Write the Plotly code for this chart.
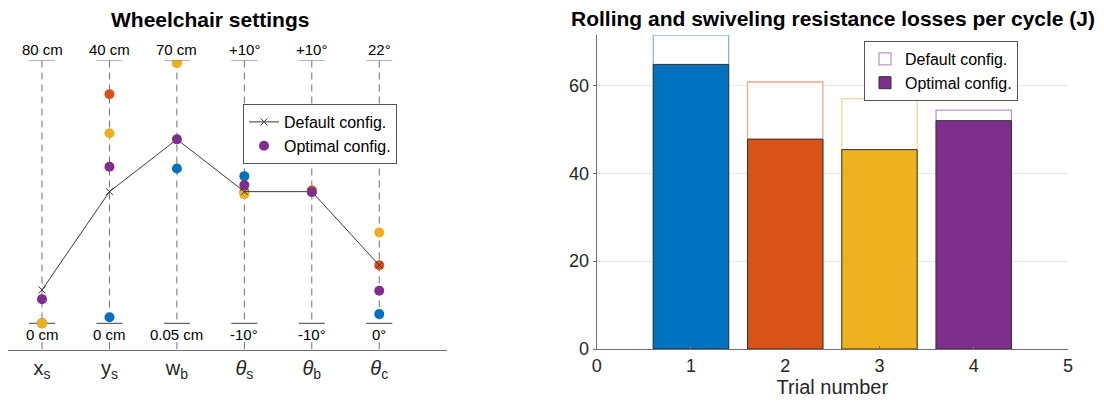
import plotly.graph_objects as go

# ---------------- data ----------------
param_labels = ["x<sub>s</sub>", "y<sub>s</sub>", "w<sub>b</sub>",
                "<i>θ</i><sub>s</sub>", "<i>θ</i><sub>b</sub>", "<i>θ</i><sub>c</sub>"]
param_pos = [1, 2, 3, 4, 5, 6]
top_labels = ["80 cm", "40 cm", "70 cm", "+10°", "+10°", "22°"]
bottom_labels = ["0 cm", "0 cm", "0.05 cm", "-10°", "-10°", "0°"]

# normalised setting (0 = bottom label, 1 = top label)
default_setting = [0.127, 0.501, 0.700, 0.501, 0.501, 0.221]
opt_trial1 = [0.000, 0.023, 0.589, 0.560, 0.500, 0.035]
opt_trial2 = [0.000, 0.872, 1.000, 0.500, 0.505, 0.221]
opt_trial3 = [0.000, 0.723, 0.990, 0.491, 0.500, 0.346]
opt_trial4 = [0.092, 0.596, 0.700, 0.526, 0.500, 0.124]

trials = [1, 2, 3, 4]
default_losses = [71.5, 60.8, 57.0, 54.4]
optimal_losses = [64.8, 47.8, 45.4, 52.0]

# ---------------- style ----------------
colors = ["#0072BD", "#D95319", "#EDB120", "#7E2F8E"]
light = ["#80b9de", "#eca98c", "#f6d890", "#be97c6"]
FONT = "Liberation Sans, Arial, sans-serif"
TXT = "#262626"
AX = "#6e6e6e"
W, H = 1104, 407

fig = go.Figure()

# ---- left panel: dashed parallel axes (gap where the bottom label sits) ----
dash_x, dash_y = [], []
for p in param_pos:
    dash_x += [p, p, None, p, p, None]
    dash_y += [1, 0, None, -0.072, -0.1, None]
fig.add_trace(go.Scatter(x=dash_x, y=dash_y, mode="lines",
                         line=dict(color="#707070", width=1, dash="7px,5px"),
                         showlegend=False, hoverinfo="skip",
                         xaxis="x", yaxis="y"))

# small tick segments at 0 and 1 on each parallel axis
hw = 0.193
seg_x, seg_y = [], []
for p in param_pos:
    for lvl in (0, 1):
        seg_x += [p - hw, p + hw, None]
        seg_y += [lvl, lvl, None]
fig.add_trace(go.Scatter(x=seg_x, y=seg_y, mode="lines",
                         line=dict(color="#666666", width=1.2),
                         showlegend=False, hoverinfo="skip",
                         xaxis="x", yaxis="y"))

opt_trials = [opt_trial1, opt_trial2, opt_trial3]
for i, vals in enumerate(opt_trials):
    fig.add_trace(go.Scatter(x=param_pos, y=vals, mode="markers",
                             marker=dict(color=colors[i], size=10),
                             showlegend=False, xaxis="x", yaxis="y"))

fig.add_trace(go.Scatter(x=param_pos, y=default_setting, mode="lines+markers",
                         name="Default config.",
                         line=dict(color="#3a3a3a", width=1),
                         marker=dict(symbol="x-thin", size=7,
                                     line=dict(color="#3a3a3a", width=1)),
                         legend="legend", legendrank=1,
                         xaxis="x", yaxis="y"))

fig.add_trace(go.Scatter(x=param_pos, y=opt_trial4, mode="markers",
                         name="Optimal config.",
                         marker=dict(color=colors[3], size=10),
                         legend="legend", legendrank=2,
                         xaxis="x", yaxis="y"))

# ---- right panel: bars ----
for i, t in enumerate(trials):
    fig.add_trace(go.Bar(x=[t], y=[default_losses[i]], width=0.8,
                         marker=dict(color="white", line=dict(color=light[i], width=1.3)),
                         name="Default config.", showlegend=(i == 3),
                         legend="legend2", legendrank=1,
                         xaxis="x2", yaxis="y2"))
for i, t in enumerate(trials):
    fig.add_trace(go.Bar(x=[t], y=[optimal_losses[i]], width=0.8,
                         marker=dict(color=colors[i], line=dict(color="#333333", width=1)),
                         name="Optimal config.", showlegend=(i == 3),
                         legend="legend2", legendrank=2,
                         xaxis="x2", yaxis="y2"))

# labels on the parallel axes
annotations = []
for p, tl, bl in zip(param_pos, top_labels, bottom_labels):
    annotations.append(dict(x=p, y=1, xref="x", yref="y", text=tl, showarrow=False,
                            yanchor="bottom", yshift=1,
                            font=dict(size=15, color="black")))
    annotations.append(dict(x=p, y=0, xref="x", yref="y", text=bl, showarrow=False,
                            yanchor="top", yshift=-1,
                            font=dict(size=15, color="black")))

annotations.append(dict(x=210 / W, y=1 - 19 / H, xref="paper", yref="paper",
                        text="<b>Wheelchair settings</b>", showarrow=False,
                        xanchor="center", yanchor="middle",
                        font=dict(size=21, color="black")))
annotations.append(dict(x=833 / W, y=1 - 18 / H, xref="paper", yref="paper",
                        text="<b>Rolling and swiveling resistance losses per cycle (J)</b>",
                        showarrow=False, xanchor="center", yanchor="middle",
                        font=dict(size=21, color="black")))

fig.update_layout(
    width=W, height=H,
    margin=dict(l=0, r=0, t=0, b=0, autoexpand=False),
    paper_bgcolor="white", plot_bgcolor="white",
    font=dict(family=FONT, color=TXT),
    barmode="overlay",
    showlegend=True,
    annotations=annotations,
    xaxis=dict(domain=[8.3 / W, 446.7 / W], range=[0.5, 7.0],
               tickmode="array", tickvals=param_pos, ticktext=param_labels,
               tickfont=dict(size=20, color=TXT),
               showgrid=False,
               showline=True, linecolor=AX, linewidth=1,
               zeroline=False, ticks="", fixedrange=True, automargin=False),
    yaxis=dict(domain=[1 - 349.6 / H, 1 - 60.5 / H], range=[-0.1, 1.0],
               visible=False, fixedrange=True, automargin=False),
    xaxis2=dict(domain=[596.7 / W, 1068 / W], range=[0, 5],
                tickmode="linear", tick0=0, dtick=1,
                tickfont=dict(size=18, color=TXT),
                title=dict(text="Trial number", font=dict(size=20, color=TXT), standoff=2),
                showgrid=False, showline=True, linecolor=AX, linewidth=1,
                ticks="inside", ticklen=3, tickcolor=AX,
                zeroline=False, anchor="y2", automargin=False),
    yaxis2=dict(domain=[1 - 349 / H, 1 - 35 / H], range=[0, 71.5],
                tickvals=[0, 20, 40, 60],
                tickfont=dict(size=18, color=TXT),
                showgrid=True, gridcolor="#e6e6e6", gridwidth=1,
                showline=True, linecolor=AX, linewidth=1,
                ticks="outside", ticklen=3, tickcolor=AX,
                zeroline=False, anchor="x2", automargin=False),
    legend=dict(x=243 / W, y=1 - 104 / H, xanchor="left", yanchor="top",
                bgcolor="white", bordercolor="#555555", borderwidth=1,
                font=dict(size=16, color="black"), itemwidth=30,
                tracegroupgap=0),
    legend2=dict(x=864 / W, y=1 - 41 / H, xanchor="left", yanchor="top",
                 bgcolor="white", bordercolor="#555555", borderwidth=1,
                 font=dict(size=16, color="black"), itemwidth=30,
                 tracegroupgap=0),
)

fig.write_html("out.html",
               config={"displayModeBar": False},
               post_script="document.body.style.margin='0px';"
                           "document.body.style.overflow='hidden';")
